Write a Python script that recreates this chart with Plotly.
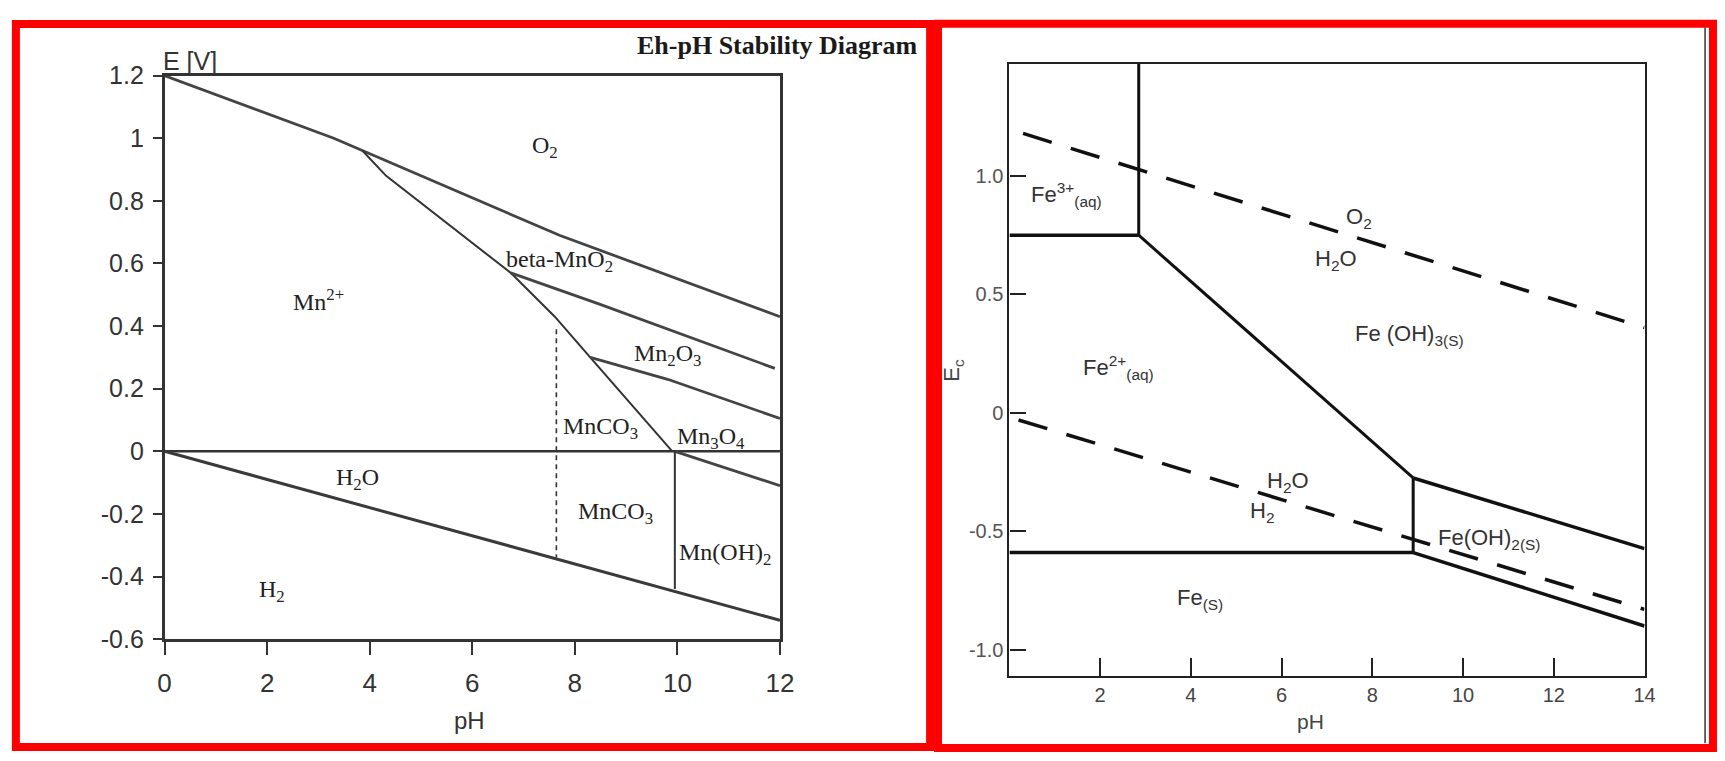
import plotly.graph_objects as go

W, H = 1725, 761

# ---------------- Left panel: Mn Eh-pH diagram ----------------
mn_xticks = [0, 2, 4, 6, 8, 10, 12]
mn_yticks = [-0.6, -0.4, -0.2, 0, 0.2, 0.4, 0.6, 0.8, 1.0, 1.2]
mn_yticktext = ["-0.6", "-0.4", "-0.2", "0", "0.2", "0.4", "0.6", "0.8", "1", "1.2"]

mn_o2_ph = [0, 3.3, 7.7, 12]
mn_o2_e = [1.2, 1.0, 0.69, 0.43]
mn_mno2_ph = [3.86, 4.32, 6.75, 7.61, 8.3, 9.9]
mn_mno2_e = [0.96, 0.88, 0.57, 0.43, 0.30, 0.0]
mn_mn2o3_ph = [6.75, 8.48, 11.9]
mn_mn2o3_e = [0.57, 0.47, 0.265]
mn_mn3o4_ph = [8.3, 9.81, 12]
mn_mn3o4_e = [0.30, 0.23, 0.105]
mn_zero_ph = [0, 12]
mn_zero_e = [0, 0]
mn_oh2_ph = [9.95, 12]
mn_oh2_e = [0, -0.11]
mn_vert_ph = [9.95, 9.95]
mn_vert_e = [0, -0.44]
mn_dash_ph = [7.64, 7.64]
mn_dash_e = [0.39, -0.34]
mn_h2_ph = [0, 4.0, 12]
mn_h2_e = [0, -0.18, -0.54]

mn_labels = ["O<sub>2</sub>", "beta-MnO<sub>2</sub>", "Mn<sup>2+</sup>", "Mn<sub>2</sub>O<sub>3</sub>",
             "MnCO<sub>3</sub>", "Mn<sub>3</sub>O<sub>4</sub>", "H<sub>2</sub>O", "MnCO<sub>3</sub>",
             "Mn(OH)<sub>2</sub>", "H<sub>2</sub>"]
mn_label_ph = [7.41, 7.70, 3.0, 9.80, 8.51, 10.65, 3.77, 8.80, 10.93, 2.09]
mn_label_e = [0.972, 0.609, 0.483, 0.308, 0.074, 0.043, -0.089, -0.197, -0.329, -0.446]

# ---------------- Right panel: Fe Eh-pH diagram ----------------
fe_xticks = [2, 4, 6, 8, 10, 12, 14]
fe_yticks = [-1.0, -0.5, 0, 0.5, 1.0]
fe_yticktext = ["-1.0", "-0.5", "0", "0.5", "1.0"]

fe_v1_ph = [2.85, 2.85]
fe_v1_e = [1.474, 0.75]
fe_h1_ph = [0, 2.85]
fe_h1_e = [0.75, 0.75]
fe_diag_ph = [2.85, 8.9]
fe_diag_e = [0.75, -0.275]
fe_v2_ph = [8.9, 8.9]
fe_v2_e = [-0.275, -0.59]
fe_h2_ph = [0, 8.9]
fe_h2_e = [-0.59, -0.59]
fe_oh3_ph = [8.9, 14]
fe_oh3_e = [-0.275, -0.573]
fe_fe_ph = [8.9, 14]
fe_fe_e = [-0.59, -0.90]
fe_o2_ph = [0.3, 14]
fe_o2_e = [1.18, 0.36]
fe_h2o_ph = [0.2, 14]
fe_h2o_e = [-0.03, -0.83]

fe_labels = ["Fe<sup>3+</sup><sub>(aq)</sub>", "O<sub>2</sub>", "H<sub>2</sub>O", "Fe (OH)<sub>3(S)</sub>",
             "Fe<sup>2+</sup><sub>(aq)</sub>", "H<sub>2</sub>O", "H<sub>2</sub>", "Fe(OH)<sub>2(S)</sub>",
             "Fe<sub>(S)</sub>"]
fe_label_ph = [1.25, 7.70, 7.19, 8.83, 2.40, 6.15, 5.56, 10.57, 4.21]
fe_label_e = [0.92, 0.822, 0.647, 0.33, 0.192, -0.293, -0.418, -0.532, -0.784]


def px(v):
    return v / W


def py(v):
    return 1 - v / H


fig = go.Figure()


def add_line(xs, ys, xa, ya, color, width, dash=None):
    fig.add_trace(go.Scatter(x=xs, y=ys, mode="lines", xaxis=xa, yaxis=ya,
                             line=dict(color=color, width=width, dash=dash),
                             hoverinfo="skip", showlegend=False))


MN = "#333333"
add_line(mn_o2_ph, mn_o2_e, "x", "y", "#444444", 2.8)
add_line(mn_mno2_ph, mn_mno2_e, "x", "y", MN, 2)
add_line(mn_mn2o3_ph, mn_mn2o3_e, "x", "y", "#444444", 2.8)
add_line(mn_mn3o4_ph, mn_mn3o4_e, "x", "y", "#444444", 2.8)
add_line(mn_zero_ph, mn_zero_e, "x", "y", MN, 2.5)
add_line(mn_oh2_ph, mn_oh2_e, "x", "y", "#444444", 2.8)
add_line(mn_vert_ph, mn_vert_e, "x", "y", MN, 2)
add_line(mn_dash_ph, mn_dash_e, "x", "y", MN, 1.6, "5px,4px")
add_line(mn_h2_ph, mn_h2_e, "x", "y", "#3a3a3a", 3)

FE = "#111111"
add_line(fe_v1_ph, fe_v1_e, "x2", "y2", FE, 3)
add_line(fe_h1_ph, fe_h1_e, "x2", "y2", FE, 3.5)
add_line(fe_diag_ph, fe_diag_e, "x2", "y2", FE, 3)
add_line(fe_v2_ph, fe_v2_e, "x2", "y2", FE, 3)
add_line(fe_h2_ph, fe_h2_e, "x2", "y2", FE, 3.5)
add_line(fe_oh3_ph, fe_oh3_e, "x2", "y2", FE, 3.5)
add_line(fe_fe_ph, fe_fe_e, "x2", "y2", FE, 3.5)
add_line(fe_o2_ph, fe_o2_e, "x2", "y2", FE, 3.5, "30px,20px")
add_line(fe_h2o_ph, fe_h2o_e, "x2", "y2", FE, 3.5, "30px,20px")

SANS = "Liberation Sans"
annotations = []
for t, x, y in zip(mn_labels, mn_label_ph, mn_label_e):
    annotations.append(dict(text=t, x=x, y=y, xref="x", yref="y", showarrow=False,
                            xanchor="center", yanchor="middle",
                            font=dict(family="Liberation Serif", size=24, color="#222222")))
for t, x, y in zip(fe_labels, fe_label_ph, fe_label_e):
    annotations.append(dict(text=t, x=x, y=y, xref="x2", yref="y2", showarrow=False,
                            xanchor="center", yanchor="middle",
                            font=dict(family=SANS, size=22, color="#333333")))

annotations += [
    dict(text="<b>Eh-pH Stability Diagram</b>", x=px(924), y=py(33), xref="paper", yref="paper",
         xanchor="right", yanchor="middle", showarrow=False,
         font=dict(family="Liberation Serif", size=26, color="#1a1a1a")),
    dict(text="E [V]", x=px(156), y=py(49), xref="paper", yref="paper",
         xanchor="left", yanchor="middle", showarrow=False,
         font=dict(family=SANS, size=25, color="#333333")),
    dict(text="pH", x=px(468), y=py(733), xref="paper", yref="paper",
         xanchor="center", yanchor="middle", showarrow=False,
         font=dict(family=SANS, size=24, color="#333333")),
    dict(text="pH", x=px(1320), y=py(735), xref="paper", yref="paper",
         xanchor="center", yanchor="middle", showarrow=False,
         font=dict(family=SANS, size=21, color="#444444")),
    dict(text="E<sub>c</sub>", x=px(958), y=py(370), xref="paper", yref="paper",
         xanchor="center", yanchor="middle", showarrow=False, textangle=-90,
         font=dict(family=SANS, size=22, color="#444444")),
]

shapes = [
    dict(type="rect", xref="paper", yref="paper", x0=px(9), x1=px(934.5), y0=py(761), y1=py(10.5),
         line=dict(color="#ff0000", width=8), fillcolor="rgba(0,0,0,0)", layer="above"),
    dict(type="rect", xref="paper", yref="paper", x0=px(942.5), x1=px(1727), y0=py(762), y1=py(10),
         line=dict(color="#ff0000", width=8), fillcolor="rgba(0,0,0,0)", layer="above"),
    dict(type="line", xref="paper", yref="paper", x0=px(1719), x1=px(1719), y0=py(757), y1=py(14),
         line=dict(color="#333333", width=1.5)),
]

fig.update_layout(
    width=W, height=H,
    margin=dict(l=0, r=0, t=0, b=0),
    paper_bgcolor="white", plot_bgcolor="white",
    showlegend=False,
    annotations=annotations,
    shapes=shapes,
    xaxis=dict(domain=[px(159.5), px(782.5)], range=[0, 12], anchor="y",
               showgrid=False, zeroline=False, showline=True, mirror=True,
               linecolor="#333333", linewidth=2.5,
               ticks="outside", ticklen=13, tickwidth=2, tickcolor="#333333",
               tickvals=mn_xticks, ticktext=[str(v) for v in mn_xticks],
               tickfont=dict(family=SANS, size=26, color="#333333"),
               ticklabelstandoff=6, fixedrange=True),
    yaxis=dict(domain=[py(649), py(64)], range=[-0.6, 1.2], anchor="x",
               showgrid=False, zeroline=False, showline=True, mirror=True,
               linecolor="#333333", linewidth=2.5,
               ticks="outside", ticklen=9, tickwidth=2, tickcolor="#333333",
               tickvals=mn_yticks, ticktext=mn_yticktext,
               tickfont=dict(family=SANS, size=25, color="#333333"),
               ticklabelstandoff=4, fixedrange=True),
    xaxis2=dict(domain=[px(1014.8), px(1657.7)], range=[0, 14], anchor="y2",
                showgrid=False, zeroline=False, showline=True, mirror=True,
                linecolor="#222222", linewidth=2.2,
                ticks="inside", ticklen=18, tickwidth=1.5, tickcolor="#222222",
                tickvals=fe_xticks, ticktext=[str(v) for v in fe_xticks],
                tickfont=dict(family=SANS, size=20, color="#444444"),
                fixedrange=True),
    yaxis2=dict(domain=[py(687), py(51.7)], range=[-1.11, 1.474], anchor="x2",
                showgrid=False, zeroline=False, showline=True, mirror=True,
                linecolor="#222222", linewidth=2.2,
                ticks="inside", ticklen=16, tickwidth=2, tickcolor="#222222",
                tickvals=fe_yticks, ticktext=fe_yticktext,
                tickfont=dict(family=SANS, size=20, color="#555555"),
                fixedrange=True),
)

fig.write_html("out.html")
